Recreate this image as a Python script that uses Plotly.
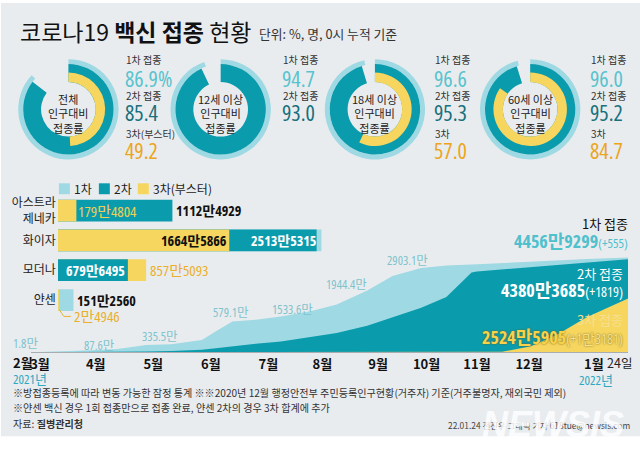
import plotly.graph_objects as go

W, H = 640, 455
KR = "Noto Sans CJK KR"
NUM = "Open Sans, Roboto, Noto Sans CJK KR"

# ---------------- data ----------------
group_names = ["전체<br>인구대비<br>접종률", "12세 이상<br>인구대비<br>접종률",
               "18세 이상<br>인구대비<br>접종률", "60세 이상<br>인구대비<br>접종률"]
rate_dose1 = [86.9, 94.7, 96.6, 96.0]
rate_dose2 = [85.4, 93.0, 95.3, 95.2]
rate_dose3 = [49.2, None, 57.0, 84.7]
rate_dose3_names = ["3차(부스터)", None, "3차", "3차"]

vaccines = ["아스트라<br>제네카", "화이자", "모더나", "얀센"]
maker_dose1 = [None, 25600000, None, 1512560]
maker_dose2 = [11124929, 25135315, 6796495, None]
maker_dose3 = [1794804, 16645866, 8575093, 24946]

dates = ["2021-02-26", "2021-03-15", "2021-04-01", "2021-04-15", "2021-05-01", "2021-05-15",
         "2021-06-01", "2021-06-10", "2021-06-18", "2021-07-01", "2021-07-15", "2021-08-01",
         "2021-08-15", "2021-09-01", "2021-09-15", "2021-10-01", "2021-10-15", "2021-10-29",
         "2021-11-01", "2021-11-15", "2021-12-01", "2021-12-15", "2022-01-01", "2022-01-24"]
cum_dose1 = [1.8, 30, 87.6, 150, 335.5, 370, 579.1, 1050, 1450, 1533.6, 1680, 1944.4,
             2250, 2903.1, 3590, 3970, 4080, 4130, 4140, 4200, 4260, 4320, 4390, 4456.9299]
cum_dose2 = [0, 0, 3, 10, 30, 60, 120, 200, 280, 400, 500, 700,
             900, 1250, 1650, 2100, 2600, 3750, 3800, 3900, 4010, 4110, 4220, 4380.3685]
cum_dose3 = [0, 0, 0, 0, 0, 0, 0, 0, 0, 0, 0, 0,
             0, 0, 0, 0, 0, 0, 0, 20, 280, 800, 1650, 2524.5905]
labelled_dose1 = ["2021-02-26", "2021-04-01", "2021-05-01", "2021-06-01",
                  "2021-07-01", "2021-08-01", "2021-09-01"]

totals = [44569299, 43803685, 25245905]
daily_add = [555, 1819, 13181]

month_tick_dates = ["2021-03-03", "2021-04-03", "2021-05-05", "2021-06-06", "2021-07-08",
                    "2021-08-07", "2021-09-07", "2021-10-04", "2021-11-01", "2021-11-30",
                    "2022-01-05"]
month_tick_labels = ["3월", "4월", "5월", "6월", "7월", "8월", "9월", "10월", "11월", "12월", "1월"]

# ---------------- styles ----------------
C1, C2, C3 = "#9fd9e3", "#0a9cad", "#f6d65e"
BG = "#e9ecef"
V1, V2, V3 = "#58c3ce", "#17707c", "#eba51c"
CLEAR = "rgba(0,0,0,0)"
NARROW = "font-stretch:75%"


def X(p):
    return p / W


def Y(p):
    return 1 - p / H


def man(n):
    n = int(round(n))
    a, b = divmod(n, 10000)
    return f"{a}만{b}" if a else f"{b}"


def nar(t):
    return f"<span style='{NARROW}'>{t}</span>"


fig = go.Figure()
ann = []
shapes = []


def T(x, y, text, size, color, family=KR, xa="center", ya="middle", **kw):
    d = dict(x=X(x), y=Y(y), xref="paper", yref="paper", xanchor=xa, yanchor=ya, text=text,
             showarrow=False, font=dict(family=family, size=size, color=color, **kw))
    ann.append(d)
    return d


shapes.append(dict(type="rect", xref="paper", yref="paper", x0=0, x1=1, y0=Y(436), y1=1,
                   fillcolor=BG, line_width=0, layer="below"))

# ---------------- title ----------------
T(17, 28, "코로나19 <b>백신 접종</b> 현황", 23, "#111", xa="left")
T(256, 31, "단위: %, 명, 0시 누적 기준", 12.8, "#333", xa="left")

# ---------------- donuts ----------------
centers = [67.5, 220, 374.5, 530]
CY = 107
R_out, R_mid, R_in, R_y = 50.5, 45.5, 27.5, 37


def ring(cx, r, hole, val, color):
    fig.add_trace(go.Pie(values=[val, 100 - val], marker=dict(colors=[color, CLEAR], line=dict(width=0)),
                         hole=hole, sort=False, direction="clockwise", rotation=0,
                         textinfo="none", hoverinfo="skip", showlegend=False,
                         domain=dict(x=[X(cx - r), X(cx + r)], y=[Y(CY + r), Y(CY - r)])))


text_x = [123, 280, 433, 589]
for i, cx in enumerate(centers):
    ring(cx, R_out, R_mid / R_out, rate_dose1[i], C1)
    ring(cx, R_mid, R_in / R_mid, rate_dose2[i], C2)
    if rate_dose3[i] is not None:
        ring(cx, R_y, R_in / R_y, rate_dose3[i], C3)
    T(cx, 111, group_names[i], 11, "#222")
    rows = [("1차 접종", 57, f"{rate_dose1[i]:.1f}" + ("%" if i == 0 else ""), 75, V1),
            ("2차 접종", 93, f"{rate_dose2[i]:.1f}", 110, V2)]
    if rate_dose3[i] is not None:
        rows.append((rate_dose3_names[i], 131, f"{rate_dose3[i]:.1f}", 148, V3))
    for lab, ly, val, vy, col in rows:
        T(text_x[i], ly, lab, 10, "#333", xa="left")
        T(text_x[i] - 1, vy, nar(val), 22, col, family=NUM, xa="left")

# ---------------- legend (manual) ----------------
for sx, col, lab in [(58, C1, "1차"), (98, C2, "2차"), (137, C3, "3차(부스터)")]:
    shapes.append(dict(type="rect", xref="paper", yref="paper", x0=X(sx), x1=X(sx + 11),
                       y0=Y(192.5), y1=Y(181.5), fillcolor=col, line_width=0))
    T(sx + 13, 187, lab, 12, "#222", xa="left")

# ---------------- maker bars (overlay, longest at back) ----------------
series = [(maker_dose1, C1), (maker_dose2, C2), (maker_dose3, C3)]
layers = [[], [], []]
for ci, cat in enumerate(vaccines):
    present = [(s[ci] / 1e4, col) for s, col in series if s[ci] is not None]
    present.sort(key=lambda t: -t[0])
    for li, (v, col) in enumerate(present):
        layers[li].append((cat, v, col))
for layer in layers:
    if layer:
        fig.add_trace(go.Bar(y=[l[0] for l in layer], x=[l[1] for l in layer], orientation="h",
                             marker=dict(color=[l[2] for l in layer], line_width=0), width=0.73,
                             xaxis="x2", yaxis="y2", hoverinfo="skip", showlegend=False))


def bar_label(cat, v, text, anchor, shift, color, bold=True, size=14):
    t = nar(text)
    ann.append(dict(x=v / 1e4, y=cat, xref="x2", yref="y2", xanchor=anchor, yanchor="middle",
                    xshift=shift, text=f"<b>{t}</b>" if bold else t, showarrow=False,
                    font=dict(family=NUM, size=size, color=color)))


az, pf, mo, ja = vaccines
bar_label(az, maker_dose3[0], man(maker_dose3[0]), "left", 0, "#f1cf55", bold=False, size=15)
bar_label(az, maker_dose2[0], man(maker_dose2[0]), "left", 2, "#111")
bar_label(pf, maker_dose3[1], man(maker_dose3[1]), "right", 0, "#111")
bar_label(pf, maker_dose2[1], man(maker_dose2[1]), "right", 1, "#fff")
bar_label(mo, maker_dose2[2], man(maker_dose2[2]), "right", -1, "#fff")
bar_label(mo, maker_dose3[2], man(maker_dose3[2]), "left", 2, "#eab02c", bold=False, size=15)
bar_label(ja, maker_dose1[3], man(maker_dose1[3]), "left", 2, "#111")
T(71, 315.5, nar(man(maker_dose3[3])), 15, "#eab02c", family=NUM, xa="left")
shapes.append(dict(type="path", xref="paper", yref="paper",
                   path=f"M{X(58.5)},{Y(309)} L{X(63)},{Y(315.5)} L{X(70)},{Y(315.5)}",
                   line=dict(color="#eab02c", width=1)))

# ---------------- cumulative area ----------------
for vals, col in [(cum_dose1, C1), (cum_dose2, C2), (cum_dose3, C3)]:
    fig.add_trace(go.Scatter(x=dates, y=vals, mode="lines", fill="tozeroy", fillcolor=col,
                             line=dict(width=0, color=col), hoverinfo="skip", showlegend=False))

lab_pos = [(25, 343), (99, 345), (159, 336), (230, 312), (292, 309), (346, 283), (407, 259)]
for d, (lx, ly) in zip(labelled_dose1, lab_pos):
    v = cum_dose1[dates.index(d)]
    T(lx, ly, nar(f"{v:g}만"), 12.5, "#7fc3cc", family=NUM)

# right-side totals
T(630, 222, "1차 접종", 13, "#111", xa="right")
T(630, 240, nar(f"<b>{man(totals[0])}</b><span style='font-size:13px'>(+{man(daily_add[0])})</span>"),
  18, "#4fc0cc", family=NUM, xa="right")
T(625, 272, "2차 접종", 13, "#fff", xa="right")
T(625, 289, nar(f"<b>{man(totals[1])}</b><span style='font-size:14px'>(+{man(daily_add[1])})</span>"),
  18, "#fff", family=NUM, xa="right")
T(625, 319, "3차 접종", 13, "#f6e08e", xa="right")
T(625, 336, nar(f"<b>{man(totals[2])}</b><span style='font-size:14px;fill:#f7e08e'>(+{man(daily_add[2])})</span>"),
  18, "#f8d24a", family=NUM, xa="right", shadow="0px 0px 2px #6b5a10")

# axis extras
T(22, 362, "<b>2월</b>", 13, "#111")
T(619, 362, "24일", 12.5, "#222")
T(29, 378, nar("2021년"), 13, "#2fa8bf", family=NUM)
T(596, 379, nar("2022년"), 13, "#2fa8bf", family=NUM)

# footnotes
notes = ["※방접종등록에 따라 변동 가능한 잠정 통계 ※※2020년 12월 행정안전부 주민등록인구현황(거주자) 기준(거주불명자, 재외국민 제외)",
         "※얀센 백신 경우 1회 접종만으로 접종 완료, 얀센 2차의 경우 3차 합계에 추가",
         "자료: <b>질병관리청</b>"]
for t, ny in zip(notes, [392, 407, 423]):
    T(10, ny, t, 10.1, "#333", xa="left")
T(632, 425, "22.01.24 전진우 그래픽 기자 618tue@newsis.com", 8.4, "#444", xa="right")
T(553, 424, "<b><i>NEWSIS</i></b>", 36, "rgba(255,255,255,0.82)", family="Liberation Sans")

fig.update_layout(
    width=W, height=H, margin=dict(l=0, r=0, t=0, b=0),
    paper_bgcolor="white", plot_bgcolor=CLEAR,
    showlegend=False, barmode="overlay",
    xaxis=dict(domain=[X(30), X(628)], type="date", range=[dates[0], dates[-1]],
               tickvals=month_tick_dates, ticktext=month_tick_labels, ticks="",
               tickfont=dict(family=KR, size=13, color="#111", weight="bold"),
               showline=True, linecolor="#a9adb1", linewidth=1, showgrid=False, zeroline=False,
               fixedrange=True),
    yaxis=dict(domain=[Y(351.5), Y(244.7)], range=[0, 5000], visible=False, fixedrange=True),
    xaxis2=dict(domain=[X(57), X(357)], range=[0, 2910], visible=False, anchor="y2"),
    yaxis2=dict(domain=[Y(314), Y(194)], type="category", categoryorder="array",
                categoryarray=vaccines, range=[3.5, -0.5], anchor="x2",
                showline=False, showgrid=False, zeroline=False, ticks="", ticklabelstandoff=1,
                tickfont=dict(family=KR, size=12, color="#222")),
    annotations=ann, shapes=shapes,
)

fig.write_html("out.html", config={"displayModeBar": False},
               post_script="document.body.style.margin='0';")
